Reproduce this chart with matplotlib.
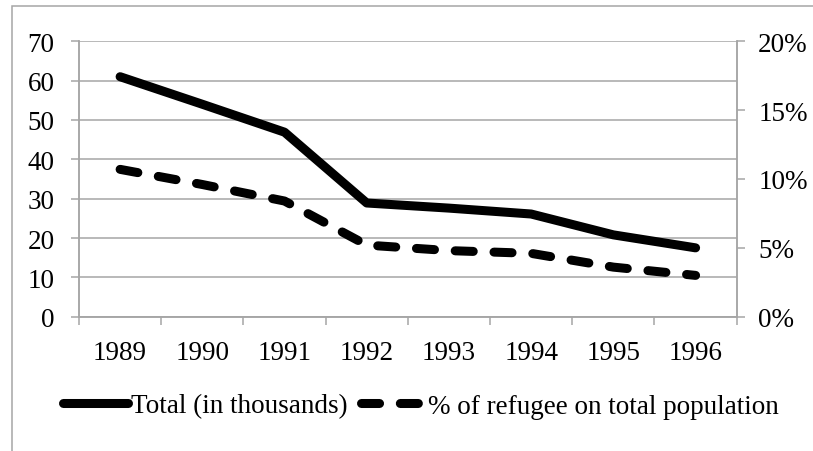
""" Refugee totals and their share of the population, 1989-1996,
drawn as an Excel-like two axis line chart.
"""

from matplotlib import pyplot as plt
from matplotlib.patches import Rectangle
from matplotlib.ticker import PercentFormatter, FixedLocator

years = ["1989", "1990", "1991", "1992", "1993", "1994", "1995", "1996"]
total_thousands = [61, 54, 46.9, 28.9, 27.6, 26.1, 20.8, 17.5]
refugee_share_pct = [10.7, 9.6, 8.4, 5.2, 4.8, 4.6, 3.6, 3.0]

GRID_GREY = '#a6a6a6'
W, H = 813, 452

plt.rcParams['font.family'] = ['Liberation Serif', 'DejaVu Serif']
plt.rcParams['font.size'] = 19.5

fig = plt.figure(figsize=(W / 100, H / 100), dpi=100)
# outer chart frame (left/top only visible in the reference)
fig.patches.append(Rectangle((12 / W, -0.1), 1.2, (H - 7) / H + 0.1, fill=False,
                             edgecolor=GRID_GREY, lw=1.1, transform=fig.transFigure))

ax = fig.add_axes([79 / W, 1 - 317.7 / H, (736.7 - 79) / W, (317.7 - 42.3) / H])
ax2 = ax.twinx()

x = list(range(len(years)))
line_total, = ax.plot(x, total_thousands, color='black', lw=6.5,
                      solid_capstyle='round', solid_joinstyle='round',
                      label="Total (in thousands)")
line_share, = ax2.plot(x, refugee_share_pct, color='black', lw=6.5,
                       dash_capstyle='round', dash_joinstyle='round',
                       label="% of refugee on total population")
line_share.set_dashes((2.0, 2.3))

ax.set_xlim(-0.5, len(years) - 0.5)
ax.set_ylim(0, 70)
ax2.set_ylim(0, 20)

ax.set_yticks(range(0, 71, 10))
ax2.set_yticks(range(0, 21, 5))
ax2.yaxis.set_major_formatter(PercentFormatter(xmax=100, decimals=0))
ax.yaxis.grid(True, color=GRID_GREY, lw=1.1)
ax.set_axisbelow(True)

# category boundaries get the tick marks, labels sit at the centres
ax.xaxis.set_major_locator(FixedLocator([i - 0.5 for i in range(len(years) + 1)]))
ax.xaxis.set_major_formatter(plt.NullFormatter())
ax.xaxis.set_minor_locator(FixedLocator(x))
ax.set_xticklabels(years, minor=True)
ax.tick_params(axis='x', which='major', length=5.5, width=1.1, color=GRID_GREY)
ax.tick_params(axis='x', which='minor', length=0, pad=17)
ax.tick_params(axis='y', length=5.5, width=1.1, color=GRID_GREY, pad=12)
ax2.tick_params(axis='y', length=5.5, width=1.1, color=GRID_GREY, pad=10)

for a in (ax, ax2):
    a.spines['top'].set_visible(False)
    for side in ('left', 'right', 'bottom'):
        a.spines[side].set_color(GRID_GREY)
        a.spines[side].set_linewidth(1.1)

fig.legend(handles=[line_total, line_share], ncol=2, loc='center',
           bbox_to_anchor=(421 / W, 1 - 407 / H), frameon=False,
           handlelength=2.4, handletextpad=0.1, columnspacing=0.5,
           borderpad=0, borderaxespad=0)

plt.savefig("out.png", dpi=100)
